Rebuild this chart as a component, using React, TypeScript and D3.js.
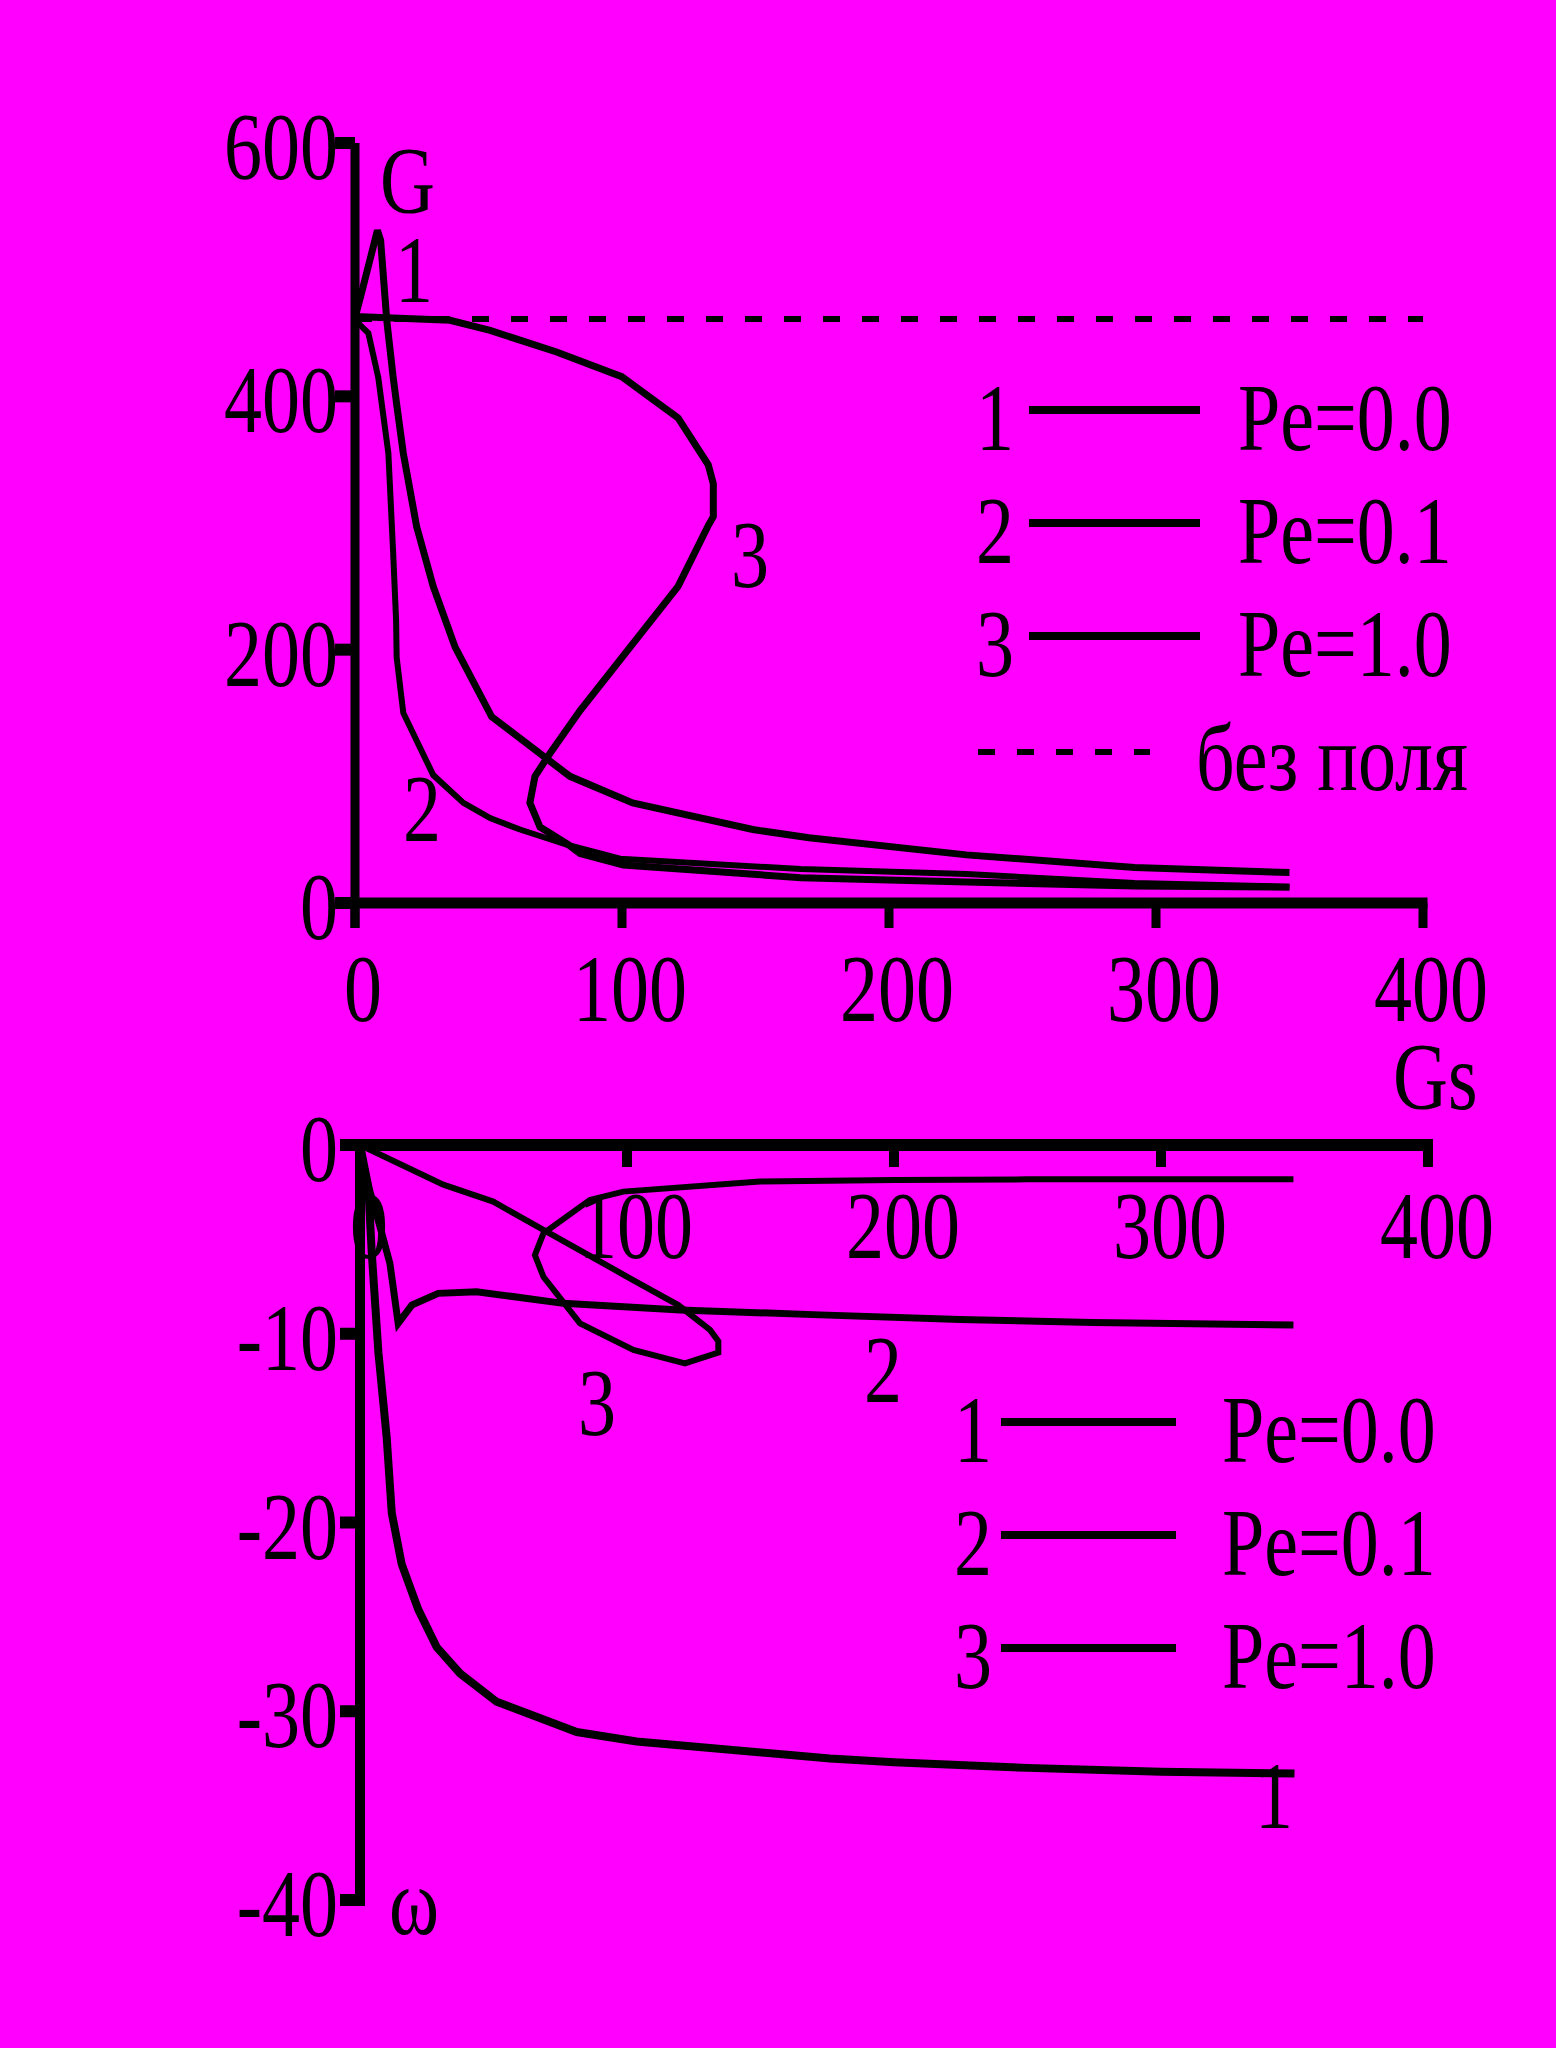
import React from 'react';
import * as d3 from 'd3';

type Pt = [number, number];

// tick values
const gsTicks = [0, 100, 200, 300, 400];
const gTicks = [0, 200, 400, 600];
const omegaTicks = [0, -10, -20, -30, -40];

// legend / labels
const curveNumbers = ['1', '2', '3'];
const peLabels = ['Pe=0.0', 'Pe=0.1', 'Pe=1.0'];
const noFieldLabel = 'без поля';

// G(Gs), upper panel
const gPe00: Pt[] = [
  [0, 462], [2, 478], [8.4, 531], [9.6, 523], [11.9, 460], [14.3, 415], [15.9, 389],
  [18.1, 355], [23.1, 297], [29.3, 250], [37.5, 202], [51.2, 147], [80.5, 100],
  [104, 79], [149, 58], [170, 51.5], [229, 38], [292, 28], [350, 24],
];
const gPe01: Pt[] = [
  [0, 462], [2, 456], [5, 450], [8.7, 415], [12.5, 355], [14.3, 276], [15.4, 223],
  [15.6, 194], [18.1, 150], [29.3, 101], [40.6, 79], [50.6, 67], [61.8, 58],
  [79.3, 46], [99.3, 35], [167, 26.8], [229, 22.9], [292, 15.8], [350, 12.8],
];
const gPe10: Pt[] = [
  [0, 463], [35.6, 460], [50.6, 452], [75.5, 435], [99.9, 415.5], [121, 383],
  [132.3, 346], [134.2, 331], [134.2, 305], [132.3, 298], [121, 250], [84.3, 152],
  [73, 118], [67.4, 100], [65.5, 79], [69.3, 60], [79.9, 46], [84.3, 39],
  [100.5, 30], [167, 20], [229, 16.6], [292, 13.4], [350, 12.5],
];
const gNoField: Pt[] = [[0, 461], [400, 461]];

// omega(Gs), lower panel
const wPe00: Pt[] = [
  [0, 0], [3.1, -2.2], [4.4, -5.7], [6.9, -11], [10, -15.5], [11.9, -19.5],
  [15.6, -22.2], [21.8, -24.6], [28.7, -26.6], [37.5, -28], [51.2, -29.5],
  [81.2, -31.1], [103.6, -31.6], [176, -32.5], [200, -32.7], [250, -33],
  [300, -33.2], [350, -33.3],
];
const wPe01: Pt[] = [
  [0, 0], [2.5, -1.85], [7.5, -4.33], [11.2, -6.27], [14.3, -9.45], [19.4, -8.48],
  [29.3, -7.86], [43.7, -7.77], [76.1, -8.39], [119.9, -8.74], [172.3, -9.0],
  [224.7, -9.24], [274.6, -9.41], [349.6, -9.54],
];
const wPe10: Pt[] = [
  [0, 0], [31.2, -2.1], [49.9, -3.0], [68.7, -4.5], [101.1, -7.06], [119.2, -8.48],
  [131.1, -9.8], [134.2, -10.4], [134.2, -11.0], [121.7, -11.57], [102.4, -10.86],
  [82.4, -9.45], [68.7, -6.98], [65.5, -5.83], [68.7, -4.68], [86.1, -2.91],
  [98.6, -2.47], [149.8, -1.94], [200.4, -1.85], [249.7, -1.82], [349.6, -1.82],
];

const W = 1556;
const H = 2048;
const BG = '#ff00ff';
const FONT = '"Liberation Serif", "Times New Roman", Times, serif';
const FS = 95;

const xTop = d3.scaleLinear().domain([0, 400]).range([355, 1423]);
const yTop = d3.scaleLinear().domain([0, 600]).range([903, 143]);
const xBot = d3.scaleLinear().domain([0, 400]).range([360, 1428]);
const yBot = d3.scaleLinear().domain([0, -40]).range([1145, 1900]);

// serif text, squeezed horizontally like the original figure
const T = ({ x, y, anchor = 'middle', children }: any) => (
  <text
    transform={`translate(${x},${y}) scale(0.8,1)`}
    textAnchor={anchor}
    fontFamily={FONT}
    fontSize={FS}
    fill="#000"
  >
    {children}
  </text>
);

const Curve = ({ data, x, y, w = 7, dash }: any) => {
  const line = d3
    .line<Pt>()
    .x((d) => x(d[0]))
    .y((d) => y(d[1]));
  return (
    <path
      d={line(data) || ''}
      fill="none"
      stroke="#000"
      strokeWidth={w}
      strokeDasharray={dash}
      strokeLinejoin="miter"
      strokeMiterlimit={3}
    />
  );
};

export default function App() {
  const topRows = [410, 523, 636];
  const botRows = [1422, 1535, 1648];

  return (
    <svg
      width={W}
      height={H}
      style={{ position: 'absolute', left: 0, top: 0, display: 'block' }}
    >
      <rect x={0} y={0} width={W} height={H} fill={BG} />

      {/* upper panel: G */}
      <rect x={335} y={yTop(0) - 5.5} width={xTop(400) + 4.5 - 335} height={11} />
      <rect x={xTop(0) - 4.5} y={yTop(600)} width={9} height={yTop(0) + 25 - yTop(600)} />
      {gTicks.map((v) => (
        <g key={'gt' + v}>
          <rect x={335} y={yTop(v) - 6} width={20} height={12} />
          <T x={338} y={yTop(v) + 36} anchor="end">{v}</T>
        </g>
      ))}
      {gsTicks.map((v) => (
        <g key={'xt' + v}>
          <rect x={xTop(v) - 4.5} y={yTop(0)} width={9} height={25} />
          <T x={xTop(v) + 8} y={1021}>{v}</T>
        </g>
      ))}

      <Curve data={gNoField} x={xTop} y={yTop} w={6} dash="17 22" />
      <Curve data={gPe00} x={xTop} y={yTop} w={7} />
      <Curve data={gPe01} x={xTop} y={yTop} w={6} />
      <Curve data={gPe10} x={xTop} y={yTop} w={7} />

      <T x={380} y={213} anchor="start">G</T>
      <T x={414} y={302}>1</T>
      <T x={422} y={841}>2</T>
      <T x={750} y={587}>3</T>
      <T x={1393} y={1109} anchor="start">Gs</T>

      {peLabels.map((lab, i) => (
        <g key={'tl' + i}>
          <T x={995} y={topRows[i] + 40}>{curveNumbers[i]}</T>
          <line x1={1029} x2={1200} y1={topRows[i]} y2={topRows[i]} stroke="#000" strokeWidth={8} />
          <T x={1238} y={topRows[i] + 40} anchor="start">{lab}</T>
        </g>
      ))}
      <line x1={978} x2={1150} y1={752} y2={752} stroke="#000" strokeWidth={6} strokeDasharray="17 22" />
      <T x={1196} y={790} anchor="start">{noFieldLabel}</T>

      {/* lower panel: omega */}
      <rect x={340} y={yBot(0) - 6} width={xBot(400) + 5 - 340} height={12} />
      <rect x={xBot(0) - 5} y={yBot(0) - 6} width={10} height={yBot(-40) + 6 - (yBot(0) - 6)} />
      {omegaTicks.map((v) => (
        <g key={'wt' + v}>
          <rect x={340} y={yBot(v) - 6} width={20} height={12} />
          <T x={338} y={yBot(v) + 36} anchor="end">{v}</T>
        </g>
      ))}
      {gsTicks.map((v) => (
        <g key={'bx' + v}>
          <rect x={xBot(v) - 5} y={yBot(0)} width={10} height={22} />
          <T x={xBot(v) + 9} y={1258}>{v}</T>
        </g>
      ))}

      <Curve data={wPe00} x={xBot} y={yBot} w={8} />
      <Curve data={wPe01} x={xBot} y={yBot} w={7} />
      <Curve data={wPe10} x={xBot} y={yBot} w={6} />

      <T x={597} y={1435}>3</T>
      <T x={883} y={1402}>2</T>
      <T x={1274} y={1828}>1</T>
      <T x={389} y={1934} anchor="start">ω</T>

      {peLabels.map((lab, i) => (
        <g key={'bl' + i}>
          <T x={973} y={botRows[i] + 40}>{curveNumbers[i]}</T>
          <line x1={1001} x2={1176} y1={botRows[i]} y2={botRows[i]} stroke="#000" strokeWidth={8} />
          <T x={1222} y={botRows[i] + 40} anchor="start">{lab}</T>
        </g>
      ))}
    </svg>
  );
}
